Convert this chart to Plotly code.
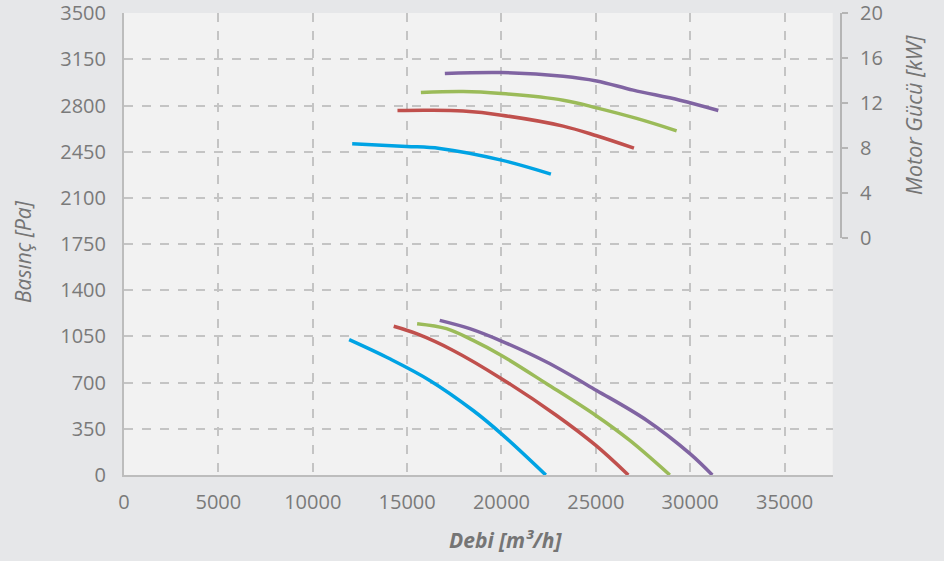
import plotly.graph_objects as go

# Pressure curves (Debi m3/h, Basınç Pa)
blue_p_x = [11930, 14080, 16200, 18500, 20000, 22350]
blue_p_y = [1026, 881, 717, 489, 312, 0]
red_p_x = [14290, 15500, 17440, 20000, 22920, 25000, 26720]
red_p_y = [1127, 1071, 944, 730, 451, 224, 0]
green_p_x = [15530, 17090, 18500, 20000, 22390, 25000, 26800, 28920]
green_p_y = [1147, 1109, 1020, 906, 692, 451, 262, 0]
purple_p_x = [16730, 18320, 20000, 22390, 25040, 27690, 30000, 31170]
purple_p_y = [1172, 1109, 1015, 856, 641, 415, 160, 0]

# Motor power curves (Debi m3/h, kW)
blue_k_x = [12090, 14970, 16730, 20000, 22620]
blue_k_y = [8.39, 8.16, 7.98, 6.94, 5.70]
red_k_x = [14490, 16200, 17970, 20000, 23270, 25040, 27020]
red_k_y = [11.35, 11.37, 11.29, 10.93, 9.96, 9.10, 8.0]
green_k_x = [15730, 17970, 20000, 23270, 25040, 27160, 29280]
green_k_y = [12.94, 13.03, 12.85, 12.26, 11.58, 10.64, 9.54]
purple_k_x = [17000, 20000, 23270, 25040, 26980, 29450, 31490]
purple_k_y = [14.63, 14.72, 14.39, 13.97, 13.15, 12.26, 11.35]

x_ticks = [0, 5000, 10000, 15000, 20000, 25000, 30000, 35000]
y_ticks = [0, 350, 700, 1050, 1400, 1750, 2100, 2450, 2800, 3150, 3500]
y2_ticks = [0, 4, 8, 12, 16, 20]

colors = {"blue": "#00a3e4", "red": "#c0504d", "green": "#9bbb59", "purple": "#8064a2"}
X_MAX = 37550

fig = go.Figure()
for name, px_, py_ in [("blue", blue_p_x, blue_p_y), ("red", red_p_x, red_p_y),
                       ("green", green_p_x, green_p_y), ("purple", purple_p_x, purple_p_y)]:
    fig.add_trace(go.Scatter(x=px_, y=py_, mode="lines", xaxis="x", yaxis="y",
                             line=dict(color=colors[name], width=3.5, shape="spline", smoothing=1.0),
                             showlegend=False, hoverinfo="skip"))
for name, kx, ky in [("blue", blue_k_x, blue_k_y), ("red", red_k_x, red_k_y),
                     ("green", green_k_x, green_k_y), ("purple", purple_k_x, purple_k_y)]:
    fig.add_trace(go.Scatter(x=kx, y=ky, mode="lines", xaxis="x2", yaxis="y2",
                             line=dict(color=colors[name], width=3.5, shape="spline", smoothing=1.0),
                             showlegend=False, hoverinfo="skip"))

font_family = "Open Sans, Noto Sans, sans-serif"
tick_color = "#7a7a7a"
grid_color = "#c4c4c4"
axis_color = "#bdbdbd"

ML, MR, MT, MB = 124, 94, 13, 86
W, H = 944, 561
paper_w = W - ML - MR
x_dom_end = (832.7 - ML) / paper_w
y2_pos = (841 - ML) / paper_w
plot_h = H - MT - MB
y2_dom_start = (H - MB - 238.3) / plot_h

fig.add_shape(type="rect", xref="x domain", yref="y domain", x0=0, x1=1, y0=0, y1=1,
              fillcolor="#f2f2f2", line=dict(width=0), layer="below")

fig.update_layout(
    width=W, height=H,
    margin=dict(l=ML, r=MR, t=MT, b=MB, autoexpand=False),
    paper_bgcolor="#e6e7e9",
    plot_bgcolor="rgba(0,0,0,0)",
    font=dict(family=font_family, size=20, color=tick_color),
    xaxis=dict(domain=[0, x_dom_end], range=[0, X_MAX], tickvals=x_ticks,
               ticktext=[str(v) for v in x_ticks], automargin=False,
               showgrid=True, gridcolor=grid_color, griddash="dash", gridwidth=2,
               showline=True, linecolor=axis_color, linewidth=2, zeroline=False,
               ticks="", ticklabelstandoff=8, anchor="y", ticklabeloverflow="allow"),
    xaxis2=dict(overlaying="x", range=[0, X_MAX], visible=False, anchor="y2", automargin=False),
    yaxis=dict(domain=[0, 1], range=[0, 3501.5], tickvals=y_ticks,
               ticktext=[str(v) for v in y_ticks], automargin=False,
               showgrid=True, gridcolor=grid_color, griddash="dash", gridwidth=2,
               showline=True, linecolor=axis_color, linewidth=2, zeroline=False,
               ticks="", ticklabelstandoff=12, anchor="x", ticklabeloverflow="allow"),
    yaxis2=dict(domain=[y2_dom_start, 1], range=[0, 20], tickvals=y2_ticks,
                ticktext=[str(v) for v in y2_ticks], automargin=False,
                anchor="free", position=y2_pos, side="right",
                showgrid=False, zeroline=False, showline=True, linecolor="#b5b5b5",
                linewidth=2, ticks="outside", ticklen=6, tickwidth=2, tickcolor="#b5b5b5",
                ticklabelstandoff=8, ticklabeloverflow="allow"),
    annotations=[
        dict(text="<b><i>Debi [m³/h]</i></b>", x=506, y=H - 540, showarrow=False,
             font=dict(size=21, color="#757575")),
        dict(text="<i>Basınç [Pa]</i>", x=22.5, y=H - 251.6, textangle=-90, showarrow=False,
             font=dict(size=21, color="#757575")),
        dict(text="<i>Motor Gücü [kW]</i>", x=914, y=H - 115, textangle=-90, showarrow=False,
             font=dict(size=21.5, color="#757575")),
    ],
)

# convert annotation pixel positions to paper coords
for a in fig.layout.annotations:
    a.x = (a.x - ML) / paper_w
    a.y = (a.y - MB) / plot_h
    a.xref = "paper"
    a.yref = "paper"
    a.xanchor = "center"
    a.yanchor = "middle"

fig.write_html("out.html", config={"displayModeBar": False},
               post_script="document.body.style.margin='0';")
